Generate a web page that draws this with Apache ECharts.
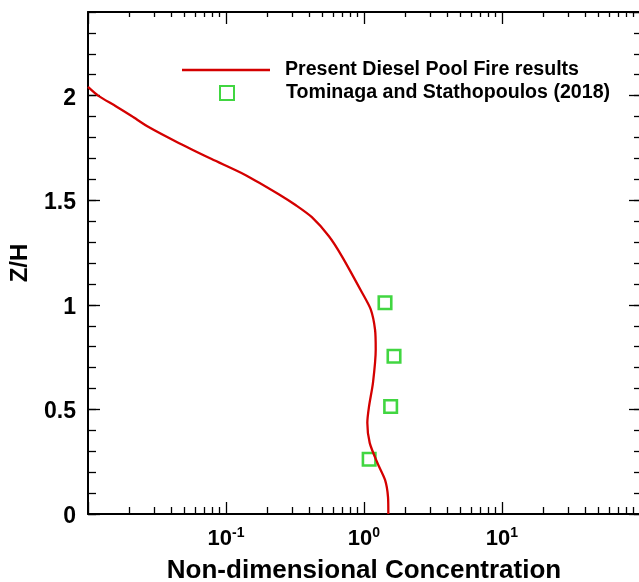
<!DOCTYPE html>
<html>
<head>
<meta charset="utf-8">
<script src="https://cdn.jsdelivr.net/npm/echarts@6/dist/echarts.min.js"></script>
<style>html,body{margin:0;padding:0;background:#fff}#c{width:639px;height:582px}</style>
</head>
<body>
<div id="c"></div>
<script>
// Present Diesel Pool Fire results (concentration, Z/H)
const lineConc = [0.0100, 0.0119, 0.0158, 0.0207, 0.0275, 0.0454, 0.0787, 0.139, 0.241, 0.321, 0.419, 0.557, 0.692, 0.967, 1.119, 1.202, 1.216, 1.162, 1.087, 1.057, 1.100, 1.249, 1.421, 1.493, 1.501];
const lineZH   = [2.042,  1.999,  1.951,  1.903,  1.850,  1.774,  1.697,  1.620, 1.529, 1.476, 1.419, 1.328, 1.232, 1.059, 0.978, 0.882, 0.786, 0.628, 0.513, 0.436, 0.340, 0.245, 0.163, 0.081, 0.000];
// Tominaga and Stathopoulos (2018)
const expConc = [1.42, 1.65, 1.56, 1.09];
const expZH   = [1.01, 0.754, 0.514, 0.262];

const xMajorTicks = [0.1, 1, 10];
const xMinorTicks = [0.02,0.03,0.04,0.05,0.06,0.07,0.08,0.09,0.2,0.3,0.4,0.5,0.6,0.7,0.8,0.9,2,3,4,5,6,7,8,9,20,30,40,50,60,70,80,90];
const xTickLabels = {0.1: '-1', 1: '0', 10: '1'};
const seriesNames = ['Present Diesel Pool Fire results', 'Tominaga and Stathopoulos (2018)'];

const FONT = 'Liberation Sans, Arial, Helvetica, sans-serif';
const RED = '#d40000';
const GREEN = '#12cc12';
const chart = echarts.init(document.getElementById('c'));

function xAxisDef(pos, values, len, showLine, showLabel) {
  return {
    type: 'log', logBase: 10, min: 0.01, max: 100, position: pos,
    axisLine: {show: showLine, onZero: false, lineStyle: {color: '#000', width: 2}},
    axisTick: {show: true, inside: true, length: len, customValues: values, lineStyle: {color: '#000', width: 1.3}},
    splitLine: {show: false}, minorTick: {show: false},
    axisLabel: showLabel ? {
      show: true, margin: 12, customValues: xMajorTicks,
      formatter: v => '{b|10}{s|' + (xTickLabels[v] !== undefined ? xTickLabels[v] : Math.round(Math.log10(v))) + '}',
      rich: {
        b: {fontFamily: FONT, fontWeight: 'bold', fontSize: 22, color: '#000', lineHeight: 25},
        s: {fontFamily: FONT, fontWeight: 'bold', fontSize: 14, color: '#000', lineHeight: 14, verticalAlign: 'top'}
      }
    } : {show: false},
    name: showLabel ? 'Non-dimensional Concentration' : '',
    nameLocation: 'middle', nameGap: 44,
    nameTextStyle: {fontFamily: FONT, fontWeight: 'bold', fontSize: 26, color: '#000'}
  };
}
function yAxisDef(pos, interval, len, showLine, showLabel) {
  return {
    type: 'value', min: 0, max: 2.4, interval: interval, position: pos,
    axisLine: {show: showLine, onZero: false, lineStyle: {color: '#000', width: 2}},
    axisTick: {show: true, inside: true, length: len, lineStyle: {color: '#000', width: 1.3}},
    splitLine: {show: false},
    axisLabel: showLabel ? {show: true, margin: 12, showMaxLabel: false, fontFamily: FONT, fontWeight: 'bold', fontSize: 23, color: '#000',
      verticalAlign: 'top', lineHeight: 5, formatter: v => String(v)} : {show: false},
    name: showLabel ? 'Z/H' : '',
    nameLocation: 'middle', nameGap: 56, nameRotate: 90,
    nameTextStyle: {fontFamily: FONT, fontWeight: 'bold', fontSize: 24, color: '#000'}
  };
}

chart.setOption({
  animation: false,
  backgroundColor: '#fff',
  grid: {left: 88, top: 12, right: -1, bottom: 68, containLabel: false, outerBoundsMode: 'none'},
  xAxis: [
    xAxisDef('bottom', [0.01, 0.1, 1, 10, 100], 12, true, true),
    xAxisDef('bottom', xMinorTicks, 7, false, false),
    xAxisDef('top', [0.01, 0.1, 1, 10, 100], 12, true, false),
    xAxisDef('top', xMinorTicks, 5, false, false)
  ],
  yAxis: [
    yAxisDef('left', 0.5, 12, true, true),
    yAxisDef('left', 0.1, 8, false, false),
    yAxisDef('right', 0.5, 11, true, false),
    yAxisDef('right', 0.1, 6, false, false)
  ],
  legend: [
    {
      data: [{name: seriesNames[0], icon: 'rect'}], left: 182, top: 60, padding: 0,
      itemWidth: 88, itemHeight: 2.4, itemGap: 0,
      itemStyle: {color: RED},
      textStyle: {fontFamily: FONT, fontWeight: 'bold', fontSize: 19.6, color: '#000', padding: [0, 0, 0, 10]}
    },
    {
      data: [{name: seriesNames[1], icon: 'rect'}], left: 219, top: 83, padding: 0,
      itemWidth: 14, itemHeight: 14, itemGap: 0,
      textStyle: {fontFamily: FONT, fontWeight: 'bold', fontSize: 19.6, color: '#000', padding: [0, 0, 0, 47]}
    }
  ],
  series: [
    {
      name: seriesNames[0], type: 'line', xAxisIndex: 0, yAxisIndex: 0,
      data: lineConc.map((c, i) => [c, lineZH[i]]),
      symbol: 'none', smooth: 0.25,
      lineStyle: {color: RED, width: 2.3}, itemStyle: {color: RED}
    },
    {
      name: seriesNames[1], type: 'scatter', xAxisIndex: 0, yAxisIndex: 0,
      data: expConc.map((c, i) => [c, expZH[i]]),
      symbol: 'rect', symbolSize: 12.5,
      itemStyle: {color: 'rgba(255,255,255,0)', borderColor: GREEN, borderWidth: 2.6}
    }
  ]
});
</script>
</body>
</html>
